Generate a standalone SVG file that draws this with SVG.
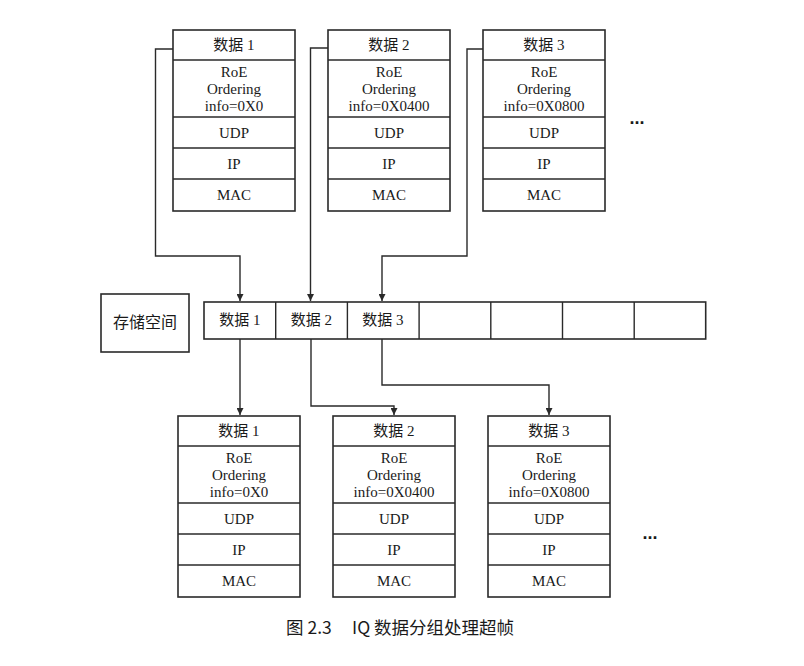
<svg xmlns="http://www.w3.org/2000/svg" width="804" height="666" viewBox="0 0 804 666">
<style>
.box{fill:#fff;stroke:#2a2a2a;stroke-width:1.6}
.sep{stroke:#2a2a2a;stroke-width:1.4}
.t{font-family:"Liberation Serif","Noto Sans CJK SC",serif;font-size:15px;fill:#1a1a1a;text-anchor:middle}
.c{fill:none;stroke:#2a2a2a;stroke-width:1.4}
.cap{font-family:"Noto Sans CJK SC","Noto Sans",sans-serif;font-size:17.5px;fill:#1a1a1a}
.dots{font-family:"Liberation Sans",sans-serif;font-size:18px;font-weight:bold;fill:#1a1a1a;text-anchor:middle}
</style>
<defs>
<marker id="ah" viewBox="0 0 10 10" refX="10" refY="5" markerWidth="10" markerHeight="7" markerUnits="userSpaceOnUse" orient="auto">
<path d="M0,0 L10,5 L0,10 z" fill="#2a2a2a"/>
</marker>
<g id="pkt">
<rect class="box" x="0" y="0" width="122" height="181"/>
<line class="sep" x1="0" y1="30" x2="122" y2="30"/>
<line class="sep" x1="0" y1="87" x2="122" y2="87"/>
<line class="sep" x1="0" y1="118" x2="122" y2="118"/>
<line class="sep" x1="0" y1="149" x2="122" y2="149"/>
<text class="t" x="61" y="47">RoE</text>
<text class="t" x="61" y="64">Ordering</text>
<text class="t" x="61" y="107.5">UDP</text>
<text class="t" x="61" y="138.5">IP</text>
<text class="t" x="61" y="170">MAC</text>
</g>
</defs>
<rect width="804" height="666" fill="#fff"/>

<g id="top1" transform="translate(173,30)">
<use href="#pkt"/>
<text class="t" x="61" y="20">数据 1</text>
<text class="t" x="61" y="81">info=0X0</text>
</g>
<g id="top2" transform="translate(328,30)">
<use href="#pkt"/>
<text class="t" x="61" y="20">数据 2</text>
<text class="t" x="61" y="81">info=0X0400</text>
</g>
<g id="top3" transform="translate(483,30)">
<use href="#pkt"/>
<text class="t" x="61" y="20">数据 3</text>
<text class="t" x="61" y="81">info=0X0800</text>
</g>
<text class="dots" x="637" y="124">...</text>

<g id="storage-label">
<rect class="box" x="101" y="294" width="88" height="58"/>
<text class="t" x="145" y="328" style="font-size:16px">存储空间</text>
</g>

<g id="storage">
<rect class="box" x="204" y="302" width="501.7" height="37"/>
<line class="sep" x1="275.7" y1="302" x2="275.7" y2="339"/>
<line class="sep" x1="347.4" y1="302" x2="347.4" y2="339"/>
<line class="sep" x1="419.1" y1="302" x2="419.1" y2="339"/>
<line class="sep" x1="490.8" y1="302" x2="490.8" y2="339"/>
<line class="sep" x1="562.5" y1="302" x2="562.5" y2="339"/>
<line class="sep" x1="634.2" y1="302" x2="634.2" y2="339"/>
<text class="t" x="240" y="325">数据 1</text>
<text class="t" x="311.5" y="325">数据 2</text>
<text class="t" x="383" y="325">数据 3</text>
</g>

<g id="bot1" transform="translate(178,416)">
<use href="#pkt"/>
<text class="t" x="61" y="20">数据 1</text>
<text class="t" x="61" y="81">info=0X0</text>
</g>
<g id="bot2" transform="translate(333,416)">
<use href="#pkt"/>
<text class="t" x="61" y="20">数据 2</text>
<text class="t" x="61" y="81">info=0X0400</text>
</g>
<g id="bot3" transform="translate(488,416)">
<use href="#pkt"/>
<text class="t" x="61" y="20">数据 3</text>
<text class="t" x="61" y="81">info=0X0800</text>
</g>
<text class="dots" x="650" y="539">...</text>

<g id="connectors">
<path class="c" d="M173,49 H155.5 V256 H240 V301" marker-end="url(#ah)"/>
<path class="c" d="M328,48 H310.5 V301" marker-end="url(#ah)"/>
<path class="c" d="M483,49 H467 V256 H382 V301" marker-end="url(#ah)"/>
<path class="c" d="M240,339 V415" marker-end="url(#ah)"/>
<path class="c" d="M311,339 V406 H394 V415" marker-end="url(#ah)"/>
<path class="c" d="M382,339 V385 H549 V415" marker-end="url(#ah)"/>
</g>

<text class="cap" y="634"><tspan x="286">图 2.3</tspan><tspan x="352">IQ 数据分组处理超帧</tspan></text>
</svg>
